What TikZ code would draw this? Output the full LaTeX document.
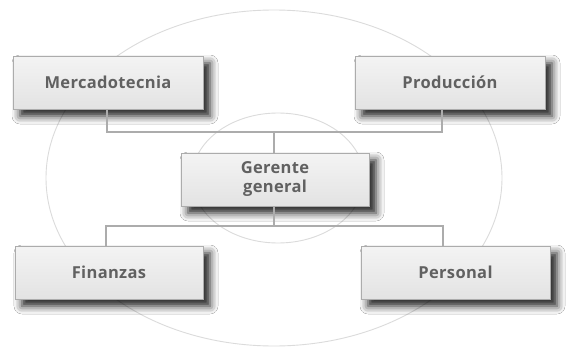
\documentclass[tikz,border=0pt]{standalone}
\usepackage{fontspec}
\setmainfont{Open Sans}
\usetikzlibrary{shadows.blur}
\begin{document}
\begin{tikzpicture}[x=1pt,y=-1pt,
  orgbox/.style={draw=gray!65, line width=0.7pt, top color=gray!9, bottom color=gray!22,
    minimum height=53pt, inner sep=0pt, align=center, text=black!62,
    font=\fontsize{16.5}{19}\selectfont\bfseries\addfontfeatures{LetterSpace=2},
    blur shadow={shadow xshift=7pt, shadow yshift=-7pt, shadow blur radius=8pt, shadow opacity=90}},
  ring/.style={draw=gray!28, line width=0.9pt},
  link/.style={draw=gray!65, line width=1.6pt}]
\useasboundingbox (0,0) rectangle (568,348);
\fill[white] (0,0) rectangle (568,348);
\draw[ring] (274,178) ellipse [x radius=228, y radius=168];
\draw[ring] (278,178) ellipse [x radius=86, y radius=65];
\coordinate (tbl) at (107,132);
\coordinate (tbr) at (442,132);
\coordinate (bbl) at (106,226);
\coordinate (bbr) at (443,226);
\node[orgbox, minimum width=190pt] (merc) at (108,82.5) {Mercadotecnia};
\node[orgbox, minimum width=190pt] (prod) at (450,82.5) {Producción};
\node[orgbox, minimum width=188pt] (ger) at (275,179.5) {Gerente\\general};
\node[orgbox, minimum width=188pt] (fin) at (109,272.5) {Finanzas};
\node[orgbox, minimum width=189pt] (pers) at (455.5,272.5) {Personal};
\draw[link] (merc.south -| tbl) -- (tbl) -- (tbr) -- (prod.south -| tbr);
\draw[link] ([xshift=-1pt]ger.north) -- ([xshift=-1pt]ger.north |- tbl);
\draw[link] (fin.north -| bbl) -- (bbl) -- (bbr) -- (pers.north -| bbr);
\draw[link] ([xshift=-1pt]ger.south) -- ([xshift=-1pt]ger.south |- bbl);
\end{tikzpicture}
\end{document}
